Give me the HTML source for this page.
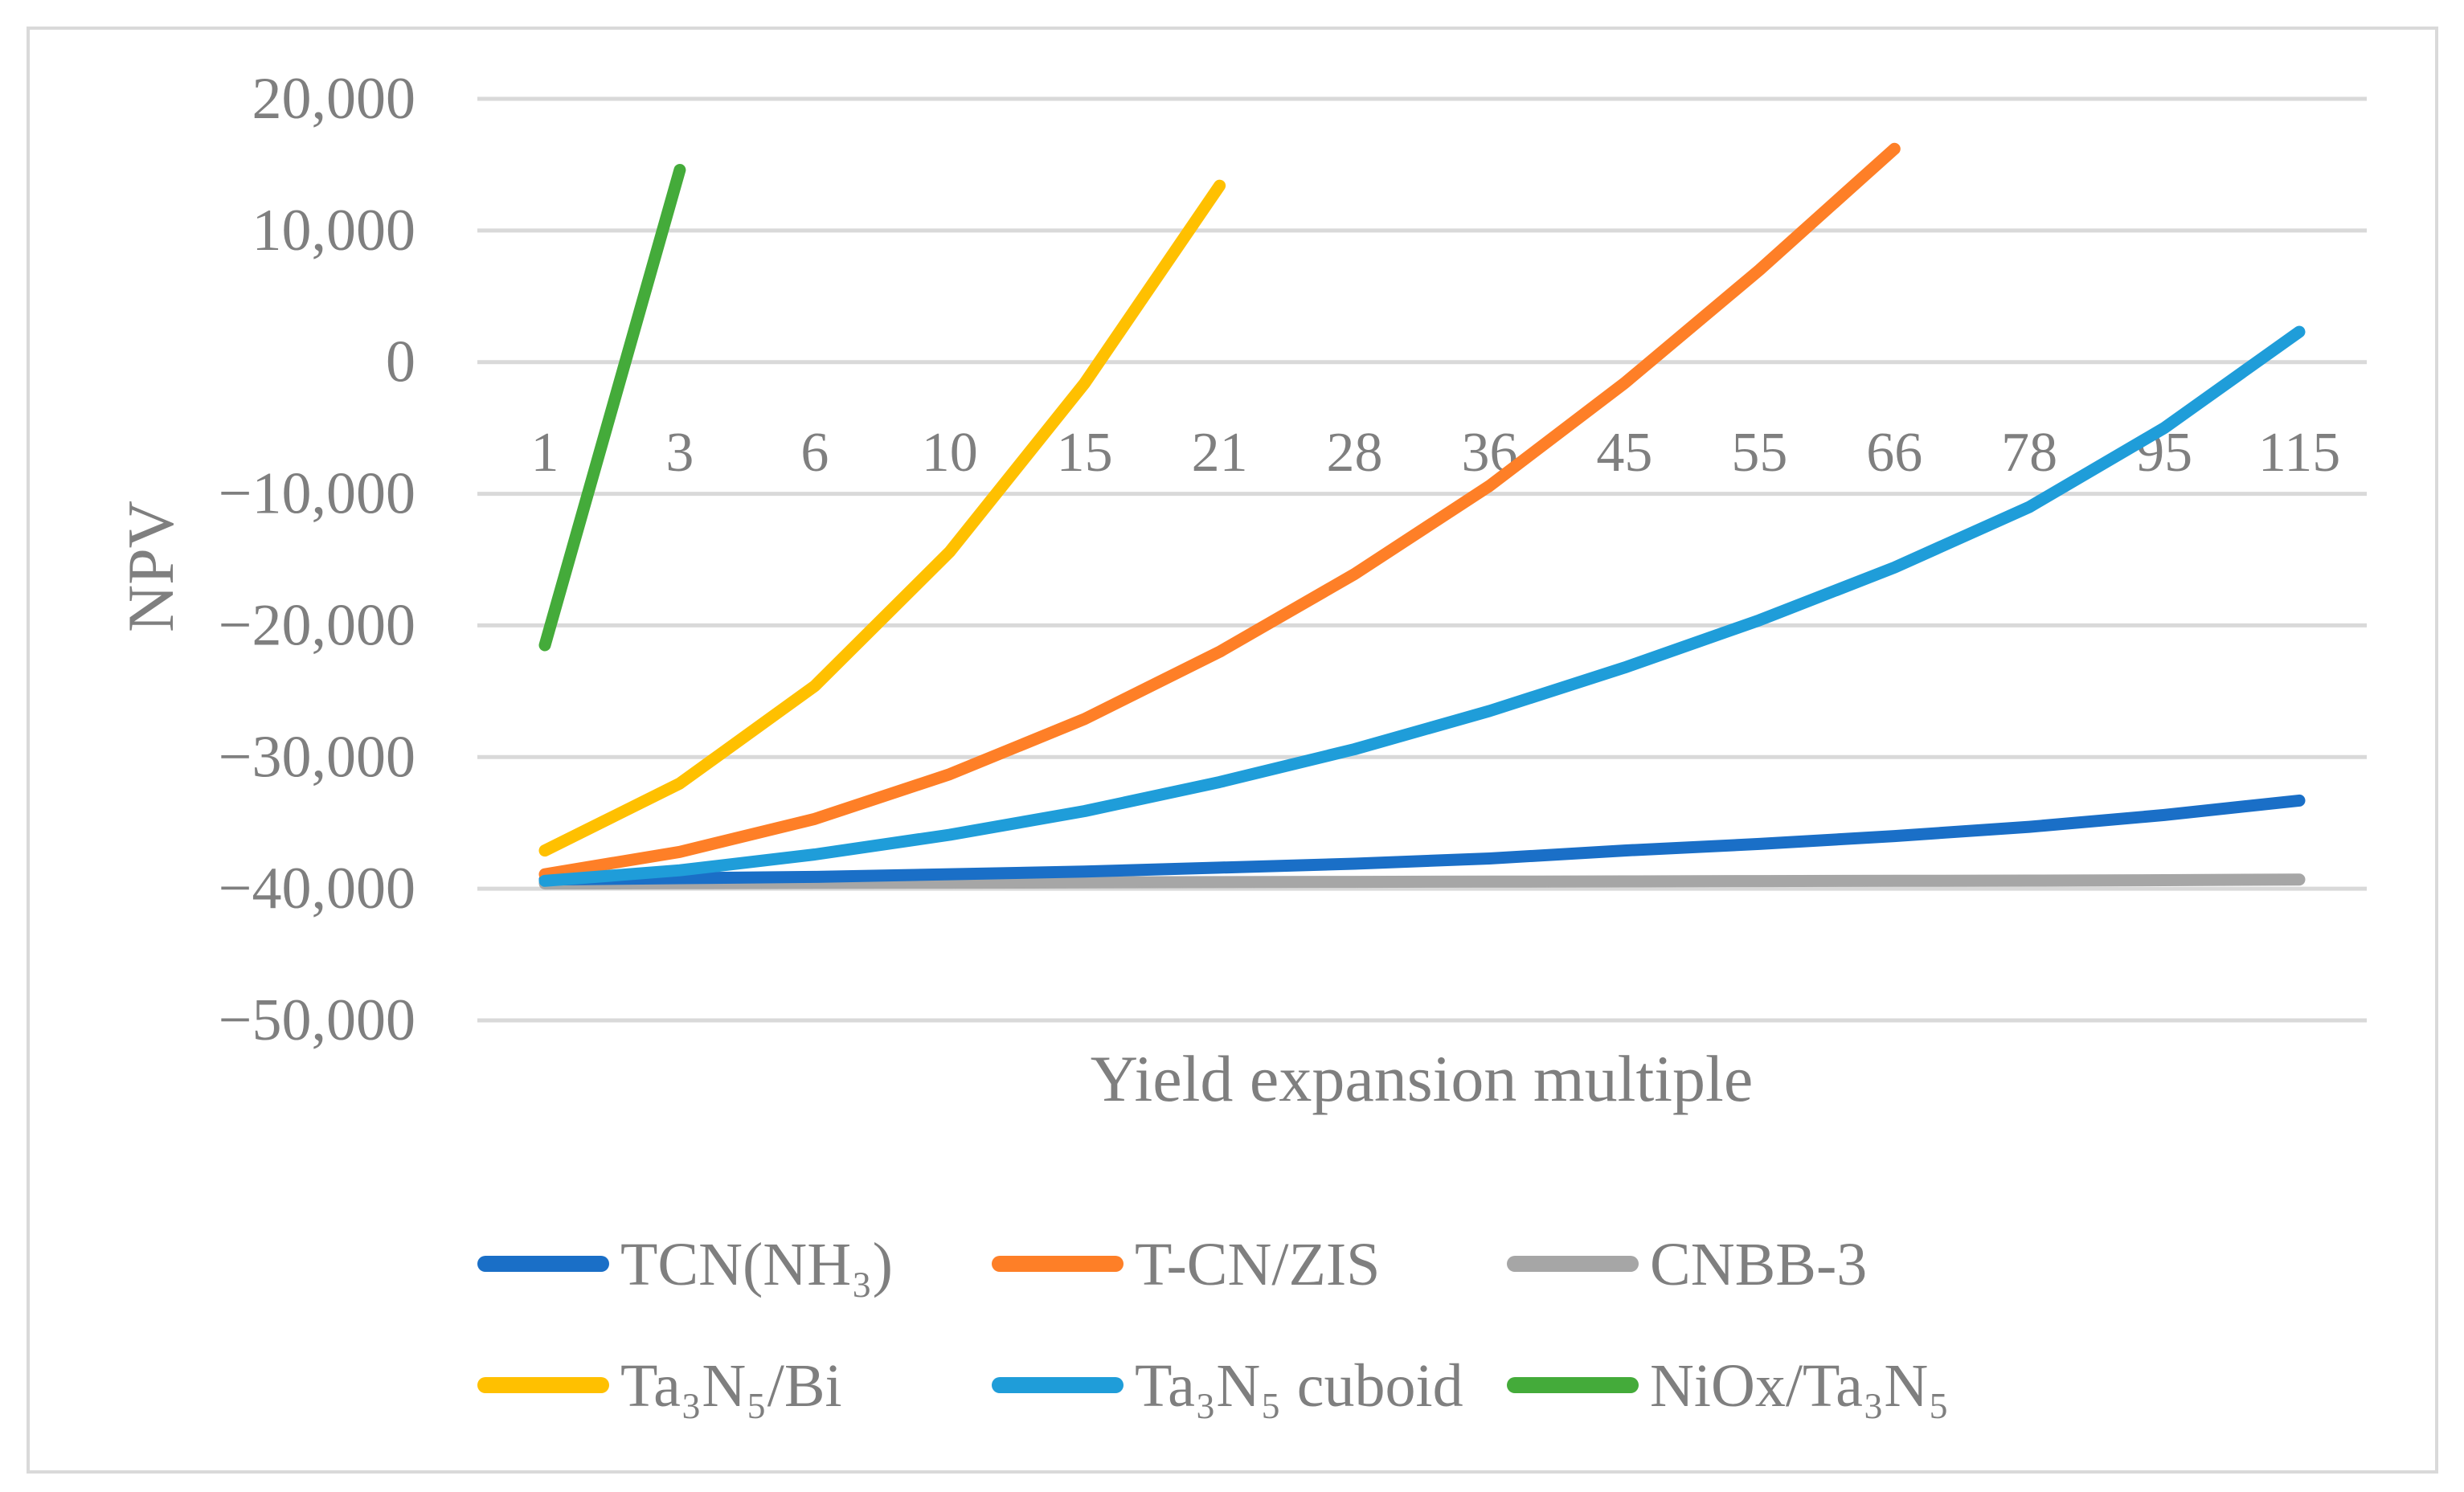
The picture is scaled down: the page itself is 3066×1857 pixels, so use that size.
<!DOCTYPE html>
<html><head><meta charset="utf-8"><style>
html,body{margin:0;padding:0;background:#fff;}
svg{display:block;}
text{font-family:"Liberation Serif",serif;fill:#7f7f7f;}
</style></head><body>
<svg width="3066" height="1857" viewBox="0 0 3066 1857">
<rect x="35" y="35" width="2997" height="1797" fill="#fff" stroke="#d9d9d9" stroke-width="4"/>
<g id="grid"></g><g id="ylabels"></g><g id="xlabels"></g><g id="series"></g>
<text x="196" y="705" font-size="82" text-anchor="middle" transform="rotate(-90 196 705)" dominant-baseline="middle">NPV</text>
<text x="1769" y="1370" font-size="82" text-anchor="middle">Yield expansion multiple</text>
<g id="legend"></g>
</svg>
<script>
const categories=["1","3","6","10","15","21","28","36","45","55","66","78","95","115"];
const yTicks=[20000,10000,0,-10000,-20000,-30000,-40000,-50000];
const yTickLabels=["20,000","10,000","0","\u221210,000","\u221220,000","\u221230,000","\u221240,000","\u221250,000"];
const seriesNames=["TCN(NH\u2083)","T-CN/ZIS","CNBB-3","Ta\u2083N\u2085/Bi","Ta\u2083N\u2085 cuboid","NiOx/Ta\u2083N\u2085"];
const seriesColors=["#1a6fc7","#fe7f27","#a6a6a6","#ffc000","#1f9dd9","#44ab3a"];
const tcn=[-39300,-39200,-39100,-38900,-38700,-38400,-38100,-37700,-37100,-36600,-36000,-35300,-34400,-33300];
const tcnZis=[-38900,-37200,-34700,-31300,-27100,-22000,-16100,-9400,-1600,7000,16200];
const cnbb=[-39600,-39580,-39560,-39540,-39520,-39500,-39480,-39460,-39440,-39420,-39400,-39380,-39350,-39300];
const ta3n5Bi=[-37100,-32000,-24600,-14400,-1600,13400];
const cuboid=[-39400,-38600,-37400,-35900,-34100,-31900,-29400,-26500,-23200,-19600,-15600,-11000,-5000,2300];
const niox=[-21500,14600];
const drawOrder=[2,0,1,4,3,5];
const allSeries=[tcn,tcnZis,cnbb,ta3n5Bi,cuboid,niox];
const NS="http://www.w3.org/2000/svg";
const x0=594,x1=2945,yTop=123,yBot=1270;
function xs(i){return x0+(x1-x0)/categories.length*(i+0.5);}
function ys(v){return yTop+(20000-v)/70000*(yBot-yTop);}
function mk(tag,attrs,parent,txt){const e=document.createElementNS(NS,tag);for(const k in attrs)e.setAttribute(k,attrs[k]);if(txt!==undefined)e.textContent=txt;parent.appendChild(e);return e;}
const grid=document.getElementById('grid'),yl=document.getElementById('ylabels'),xl=document.getElementById('xlabels'),sg=document.getElementById('series'),lg=document.getElementById('legend');
yTicks.forEach((t,i)=>{
 const l=mk('line',{x1:x0,x2:x1,y1:ys(t),y2:ys(t),stroke:'#d9d9d9','stroke-width':5},grid);
 
 
 const tx=mk('text',{x:517,y:ys(t)+24,'font-size':74,'text-anchor':'end'},yl,yTickLabels[i]);
 
 
});
categories.forEach((c,i)=>{
 const tx=mk('text',{x:xs(i),y:586,'font-size':70,'text-anchor':'middle'},xl,c);
 
 
});
drawOrder.forEach(s=>{
 const d=allSeries[s].map((v,i)=>(i?'L':'M')+xs(i).toFixed(1)+' '+ys(v).toFixed(1)).join(' ');
 const p=mk('path',{d:d,fill:'none',stroke:seriesColors[s],'stroke-width':15,'stroke-linecap':'round','stroke-linejoin':'round'},sg);
 
 
});
const lx=[594,1234,1875],ly=[1573,1724];
seriesNames.forEach((n,s)=>{
 const cx=lx[s%3],cy=ly[Math.floor(s/3)];
 const g=mk('g',{},lg);
 
 
 mk('line',{x1:cx+10,x2:cx+154,y1:cy,y2:cy,stroke:seriesColors[s],'stroke-width':20,'stroke-linecap':'round'},g);
 mk('text',{x:cx+178,y:cy+26,'font-size':76},g,n);
});
</script>
</body></html>
